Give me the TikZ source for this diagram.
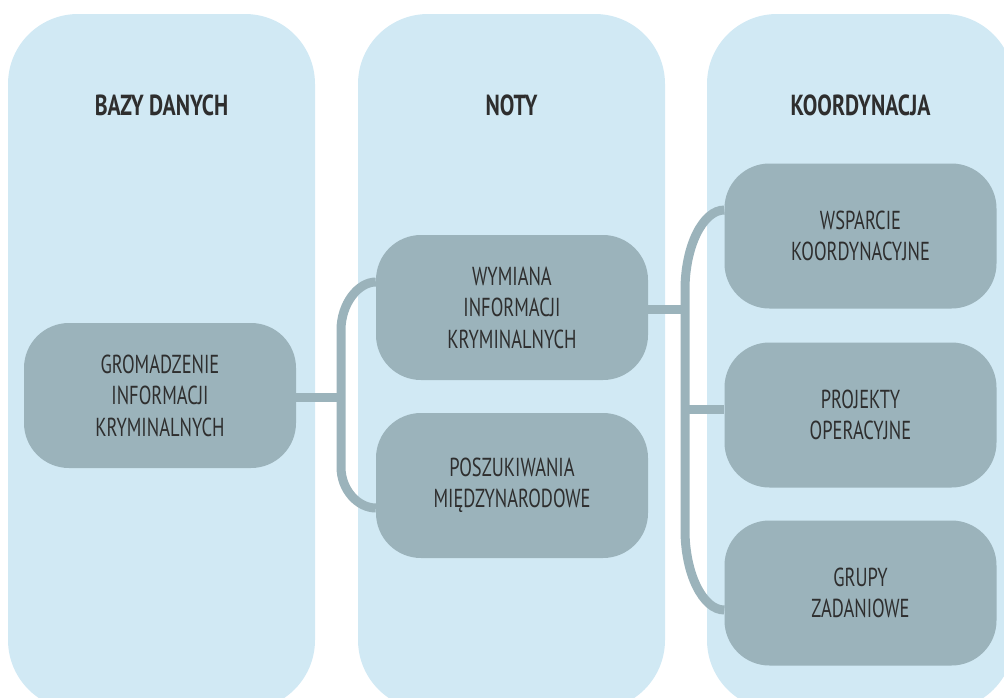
\documentclass[tikz,border=0pt]{standalone}
\usepackage{fontspec}
\setmainfont{PT Sans}
\newfontfamily\bodyfont{PT Sans}[FakeStretch=0.71]
\newfontfamily\headfont{PT Sans Bold}[FakeStretch=0.75]
\usetikzlibrary{calc,backgrounds}
\definecolor{colbg}{HTML}{D1E9F4}
\definecolor{boxbg}{HTML}{9BB3BB}
\definecolor{txt}{HTML}{2E2E2E}
\tikzset{
  column/.style={fill=colbg, rounded corners=70pt},
  box/.style={fill=boxbg, rounded corners=45pt, minimum width=272pt, minimum height=145pt, align=center, text=txt, font=\bodyfont\fontsize{26}{31.5}\selectfont, inner sep=0pt},
  header/.style={text=txt, font=\headfont\fontsize{29}{32}\selectfont, inner sep=0pt},
  link/.style={draw=boxbg, line width=9pt}
}
\begin{document}
\begin{tikzpicture}[x=1pt,y=-1pt]
\useasboundingbox (0,0) rectangle (1004,697);
\node[header] (h1) at (161.5,105) {BAZY DANYCH};
\node[header] (h2) at (511.5,105) {NOTY};
\node[header] (h3) at (860.5,105) {KOORDYNACJA};

\node[box] (gro) at (160,395.5) {GROMADZENIE\\INFORMACJI\\KRYMINALNYCH};
\node[box] (wym) at (512,307.5) {WYMIANA\\INFORMACJI\\KRYMINALNYCH};
\node[box] (pos) at (512,485.5) {POSZUKIWANIA\\MIĘDZYNARODOWE};
\node[box] (wsp) at (860.5,236) {WSPARCIE\\KOORDYNACYJNE};
\node[box] (pro) at (860.5,415) {PROJEKTY\\OPERACYJNE};
\node[box] (gru) at (860.5,593) {GRUPY\\ZADANIOWE};

\coordinate (j1) at (341,397);
\coordinate (j2) at (685,309);

\begin{scope}[on background layer]
\begin{scope}
\clip (0,0) rectangle (1004,697);
\fill[column] (8,14) rectangle (315,710);
\fill[column] (358,14) rectangle (665,710);
\fill[column] (707,14) rectangle (1014,710);
\end{scope}
\draw[link] (gro.center |- j1) -- (j1);
\draw[link] ($(wym.west)+(0,-25.5)$) .. controls (358,282) and (341,304) .. (341,330) -- (341,467) .. controls (341,490) and (358,508) .. ($(pos.west)+(0,22.5)$);
\draw[link] (wym.center |- j2) -- (j2);
\draw[link] ($(wsp.west)+(0,-26)$) .. controls (703,210) and (685,246) .. (685,290) -- (685,530) .. controls (685,574) and (703,610) .. ($(gru.west)+(0,17)$);
\draw[link] (j2 |- pro.west) ++(0,-6) -- ($(pro.west)+(0,-6)$);
\end{scope}
\end{tikzpicture}
\end{document}
